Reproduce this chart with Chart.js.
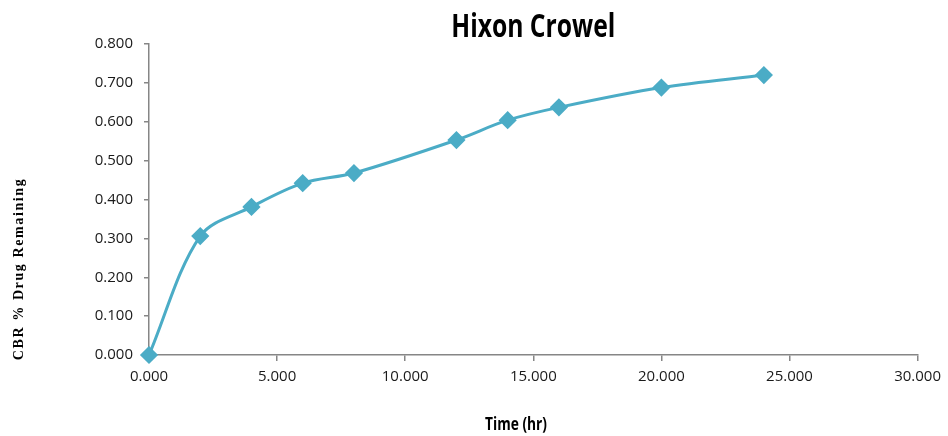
<!DOCTYPE html>
<html>
<head>
<meta charset="utf-8">
<script src="https://cdn.jsdelivr.net/npm/chart.js@4"></script>
<style>
  html, body { margin: 0; padding: 0; background: #fff; }
  #wrap { width: 948px; height: 436px; }
</style>
</head>
<body>
<div id="wrap"><canvas id="myChart"></canvas></div>
<script>
// data
const timeHr = [0, 2, 4, 6, 8, 12, 14, 16, 20, 24];
const drugRemaining = [0.000, 0.306, 0.381, 0.442, 0.468, 0.553, 0.604, 0.637, 0.688, 0.720];
const xTicks = [0, 5, 10, 15, 20, 25, 30];
const yTicks = [0, 0.1, 0.2, 0.3, 0.4, 0.5, 0.6, 0.7, 0.8];

const chartTitle = 'Hixon Crowel';
const xTitle = 'Time (hr)';
const yTitle = 'CBR % Drug Remaining';

const lineColor = '#4bacc6';
const axisColor = '#868686';

// draw text squeezed to a given width (the original uses a narrow font)
function narrowText(ctx, text, x, y, w) {
  const m = ctx.measureText(text).width;
  ctx.save();
  ctx.translate(x, y);
  ctx.scale(w / m, 1);
  ctx.fillText(text, 0, 0);
  ctx.restore();
}

// titles drawn by hand so they sit where the original has them
const titles = {
  id: 'titles',
  afterDraw(chart) {
    const ctx = chart.ctx;
    const a = chart.chartArea;
    ctx.save();
    ctx.fillStyle = '#000';
    ctx.textAlign = 'center';
    ctx.textBaseline = 'alphabetic';
    ctx.font = 'bold 33px "Open Sans", sans-serif';
    narrowText(ctx, chartTitle, (a.left + a.right) / 2, 37, 164);

    ctx.font = 'bold 18px "Open Sans", sans-serif';
    narrowText(ctx, xTitle, 516, 430, 62);

    ctx.translate(23, 269);
    ctx.rotate(-Math.PI / 2);
    ctx.font = 'bold 14px "Liberation Serif", serif';
    ctx.letterSpacing = '1.6px';
    ctx.fillText(yTitle, 0, 0);
    ctx.restore();
  }
};

const data = {
  datasets: [{
    label: 'CBR',
    data: timeHr.map((t, i) => ({ x: t, y: drugRemaining[i] })),
    borderColor: lineColor,
    backgroundColor: lineColor,
    borderWidth: 3,
    pointStyle: 'rectRot',
    pointRadius: 7,
    pointHoverRadius: 7,
    tension: 0.33,
    clip: false
  }]
};

const config = {
  type: 'line',
  data: data,
  options: {
    responsive: true,
    maintainAspectRatio: false,
    animation: false,
    layout: { padding: { top: 44, right: 26, left: 0, bottom: 0 } },
    plugins: {
      legend: { display: false },
      title: { display: false },
      tooltip: { enabled: false }
    },
    scales: {
      x: {
        type: 'linear',
        min: 0,
        max: 30,
        afterBuildTicks: s => { s.ticks = xTicks.map(v => ({ value: v })); },
        afterFit: s => { s.height = 81; },
        border: { color: axisColor, width: 1.5 },
        grid: { drawOnChartArea: false, color: axisColor, tickLength: 6, lineWidth: 1.5 },
        ticks: {
          padding: 7,
          color: '#1a1a1a',
          font: { family: 'Open Sans', size: 15 },
          callback: v => v.toFixed(3)
        }
      },
      y: {
        min: 0,
        max: 0.8,
        afterBuildTicks: s => { s.ticks = yTicks.map(v => ({ value: v })); },
        afterFit: s => { s.width = 149; },
        border: { color: axisColor, width: 1.5 },
        grid: { drawOnChartArea: false, color: axisColor, tickLength: 5, lineWidth: 1.5 },
        ticks: {
          padding: 11,
          color: '#1a1a1a',
          font: { family: 'Open Sans', size: 15 },
          callback: v => v.toFixed(3)
        }
      }
    }
  },
  plugins: [titles]
};

// render
var myChart = new Chart(document.getElementById('myChart'), config);
</script>
</body>
</html>
